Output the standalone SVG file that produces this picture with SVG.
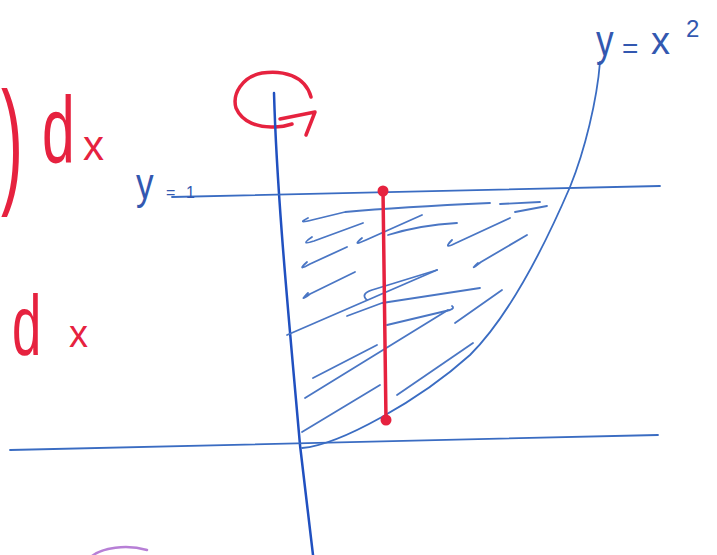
<svg xmlns="http://www.w3.org/2000/svg" width="717" height="555" viewBox="0 0 717 555">
<style>
.red{fill:none;stroke:#e6223f;stroke-width:3.5;stroke-linecap:round;stroke-linejoin:round}
.rtx{fill:#e6223f;font-family:"Liberation Sans",Arial,sans-serif}
.btx{fill:#3358b0;font-family:"Liberation Sans",Arial,sans-serif}
.axis{fill:none;stroke:#2050c0;stroke-width:2.5;stroke-linecap:round}
.ln{fill:none;stroke:#3a6cc2;stroke-width:1.8;stroke-linecap:round}
.hatch{fill:none;stroke:#4a76c4;stroke-width:1.8;stroke-linecap:round;stroke-linejoin:round}
</style>
<rect width="717" height="555" fill="#ffffff"/>

<g id="left-notes">
  <text class="rtx" transform="translate(1,188) scale(1.1,2.3)" font-size="60">)</text>
  <text class="rtx" transform="translate(42,163) scale(0.62,1)" font-size="95">d</text>
  <text class="rtx" x="83" y="160" font-size="42">x</text>
  <text class="rtx" transform="translate(12,355) scale(0.62,1)" font-size="85">d</text>
  <text class="rtx" x="69" y="347" font-size="38">x</text>
  <path d="M92,556 C102,548 126,544 147,550" fill="none" stroke="#b77fd6" stroke-width="2.5" stroke-linecap="round"/>
</g>

<g id="rotation-symbol">
  <path class="red" d="M311,97 C305,75 282,70 262,73 C242,77 232,94 236,108 C242,122 258,128 275,127 C284,127 289,125 292,124"/>
  <path class="red" d="M280,119 L315,112 L306,135"/>
</g>

<g id="axes">
  <path class="axis" d="M274,93 C277,200 290,330 300,445 L313,555"/>
  <path class="ln" d="M10,450 L658,435"/>
</g>

<g id="line-y1">
  <path class="ln" d="M172,197 L660,186"/>
  <text class="btx" transform="translate(136,199) scale(0.8,1)" font-size="44">y</text>
  <text class="btx" x="166" y="198" font-size="16">=</text>
  <text class="btx" x="186" y="198" font-size="16">1</text>
</g>

<g id="parabola">
  <path class="ln" stroke-width="2" d="M302,448 C340,445 420,400 470,355 C510,315 545,245 570,187 C585,150 597,100 600,62"/>
  <text class="btx" transform="translate(596,56) scale(0.8,1)" font-size="44">y</text>
  <text class="btx" x="622" y="58" font-size="28">=</text>
  <text class="btx" x="651" y="54" font-size="38">x</text>
  <text class="btx" x="686" y="37" font-size="24">2</text>
</g>

<g id="hatching">
  <path class="hatch" d="M308,218 Q296,224 312,220 L345,212 Q400,207 490,203"/>
  <path class="hatch" d="M500,204 L540,202"/>
  <path class="hatch" d="M515,212 L547,206"/>
  <path class="hatch" d="M312,237 Q299,246 314,241 L363,223"/>
  <path class="hatch" d="M362,238 Q351,247 366,240 L422,215"/>
  <path class="hatch" d="M388,235 Q420,225 457,223"/>
  <path class="hatch" d="M452,240 Q442,250 456,243 L510,218"/>
  <path class="hatch" d="M307,262 Q296,272 310,264 L347,247"/>
  <path class="hatch" d="M478,263 Q468,272 481,262 L527,235"/>
  <path class="hatch" d="M308,293 Q298,303 310,294 L355,272"/>
  <path class="hatch" d="M367,300 Q360,294 372,290 L437,270"/>
  <path class="hatch" d="M287,335 L437,270"/>
  <path class="hatch" d="M347,316 L382,303 L480,288"/>
  <path class="hatch" d="M387,325 L450,310 Q455,308 452,306"/>
  <path class="hatch" d="M455,323 L502,290"/>
  <path class="hatch" d="M313,378 L377,345"/>
  <path class="hatch" d="M305,398 Q380,352 448,310"/>
  <path class="hatch" d="M302,432 L380,385"/>
  <path class="hatch" d="M397,395 L473,343"/>
</g>

<g id="red-segment">
  <path class="red" stroke-width="4" d="M383,190 C384,260 385,340 386,420"/>
  <circle cx="383" cy="191" r="5.5" fill="#e6223f"/>
  <circle cx="386" cy="420" r="5.5" fill="#e6223f"/>
</g>
</svg>
